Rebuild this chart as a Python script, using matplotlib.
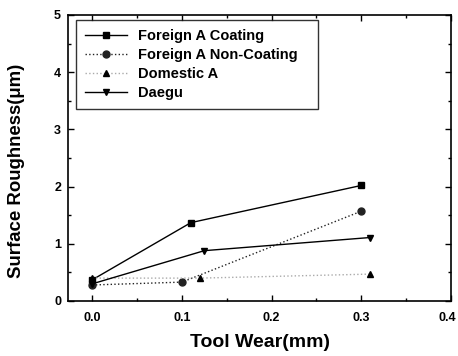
import matplotlib
matplotlib.use("Agg")
import matplotlib.pyplot as plt
import matplotlib.transforms as mtransforms
from matplotlib.ticker import MultipleLocator

plt.rcParams['font.family'] = ['Liberation Sans', 'DejaVu Sans']
plt.rcParams['font.weight'] = 'bold'

coat_x = [0.0, 0.11, 0.30]
coat_y = [0.37, 1.37, 2.02]
noncoat_x = [0.0, 0.10, 0.30]
noncoat_y = [0.28, 0.33, 1.57]
dom_x = [0.0, 0.12, 0.31]
dom_y = [0.40, 0.40, 0.47]
daegu_x = [0.0, 0.125, 0.31]
daegu_y = [0.30, 0.88, 1.11]

fig = plt.figure(figsize=(4.58, 3.56), dpi=100)
ax = fig.add_axes([0.1485, 0.1545, 0.8362, 0.8034])

ax.plot(coat_x, coat_y, '-', color='black', lw=1.0, marker='s', ms=5, label='Foreign A Coating')
ax.plot(noncoat_x, noncoat_y, ':', color='#222222', lw=1.0, marker='o', ms=5, label='Foreign A Non-Coating')
ax.plot(dom_x, dom_y, ':', color='#aaaaaa', lw=1.0, marker='^', ms=5, mfc='black', mec='black', label='Domestic A')
ax.plot(daegu_x, daegu_y, '-', color='black', lw=1.0, marker='v', ms=5, label='Daegu')

ax.set_xlim(-0.027, 0.4)
ax.set_ylim(0, 5)
ax.xaxis.set_minor_locator(MultipleLocator(0.05))
ax.yaxis.set_major_locator(MultipleLocator(1))
ax.yaxis.set_minor_locator(MultipleLocator(0.5))
ax.set_xticks([0.0, 0.1, 0.2, 0.3, 0.4])
ax.set_xticklabels(['0.0', '0.1', '0.2', '0.3', '0.4'])
ax.tick_params(which='both', direction='in', top=True, right=True, labelsize=9, width=1.0)
ax.tick_params(which='major', length=4)
ax.tick_params(which='minor', length=2)
ax.tick_params(axis='x', pad=8)
ax.tick_params(axis='y', pad=5)
for s in ax.spines.values():
    s.set_linewidth(1.2)

# keep the last x tick label inside the figure
last = ax.get_xticklabels()[-1]
last.set_transform(last.get_transform() + mtransforms.ScaledTranslation(-4/100, 0, fig.dpi_scale_trans))

ax.set_xlabel('Tool Wear(mm)', fontsize=14, fontweight='bold', labelpad=7)
ax.set_ylabel('Surface Roughness(\u03bcm)', fontsize=13.4, fontweight='bold')
ax.yaxis.set_label_coords(-0.112, 0.455)

leg = ax.legend(loc='upper left', bbox_to_anchor=(0.021, 0.0, 0.632, 0.9825), mode='expand',
                borderaxespad=0.0,
                frameon=True, fancybox=False, edgecolor='black', handlelength=2.9, handletextpad=0.75,
                borderpad=0.6, labelspacing=0.36, prop={'weight': 'bold', 'size': 10.5})
leg.get_frame().set_linewidth(1.0)

fig.savefig('out.png', dpi=100)
